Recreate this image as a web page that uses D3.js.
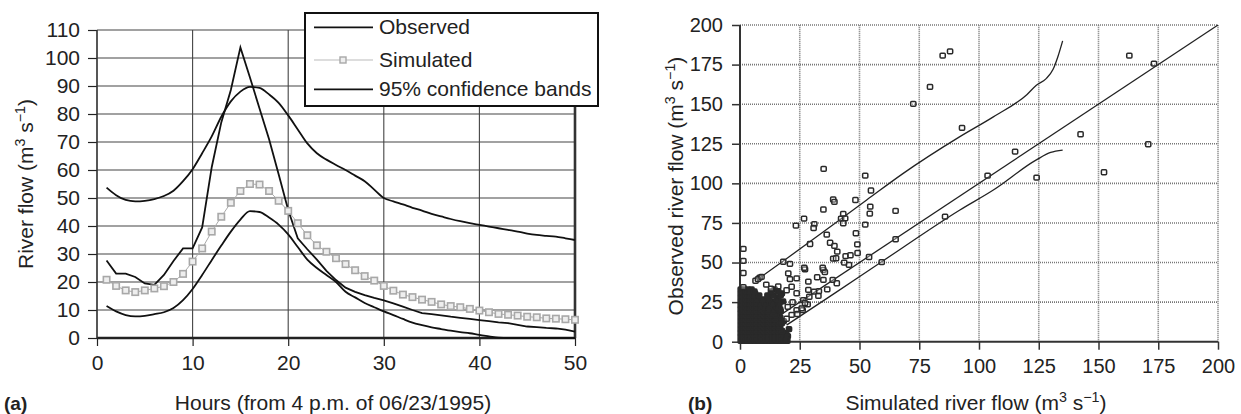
<!DOCTYPE html>
<html><head><meta charset="utf-8">
<script src="https://cdn.jsdelivr.net/npm/d3@7"></script>
<style>
html,body{margin:0;padding:0;background:#fff;}
svg{display:block;font-family:"Liberation Sans",Arial,Helvetica,sans-serif;}
</style></head>
<body>
<svg id="c" width="1241" height="414"></svg>
<script>
// ---------- Panel (a) data ----------
const hours = d3.range(1, 51);
const observed = [27.7,23,23,21.8,19.5,19,22.5,27.5,32,32,39.5,61,77,88.6,103.8,93,82,71,58.5,45.7,
  35.6,31.7,28,24,20.7,18,16.5,15.3,14.3,13.4,12.4,11.2,10,8.9,8.5,8.1,7.6,7.2,6.8,6.4,
  6.0,5.6,5.3,4.7,4.1,3.9,3.6,3.4,3.0,2.3];
const simulated = [20.8,18.6,17.0,16.4,17.0,17.7,18.5,20.0,22.9,27.3,32.0,38.0,43.3,48.3,52.5,55.0,54.8,52.5,49.0,45.4,
  41.0,36.7,33.1,30.8,28.5,26.4,24.2,22.1,20.5,18.6,16.9,15.5,14.6,13.7,12.9,12.0,11.4,11.0,10.4,9.8,
  9.2,8.6,8.3,8.0,7.6,7.4,7.0,6.9,6.7,6.5];
const upperBand = [53.7,51,49.3,48.8,49,49.6,50.7,52.6,56,60.3,66,72,79,84.5,88,89.7,89.3,87,84,79.5,
  74.5,69.5,66,63.7,61.8,60,58,56,53,50,48.8,47.7,46.5,45.5,44.3,43.4,42.5,41.7,41,40.4,
  39.8,39.2,38.6,38,37.3,36.8,36.5,36.2,35.6,35];
const lowerBand = [11.4,9.5,8.2,7.7,7.9,8.5,9.2,10.7,13.5,17.5,22.5,27.8,33,38,42.3,45.3,45,43,40.5,37,
  32.5,28,25,22.5,20,16.5,14.5,12.5,11,9.5,8.2,6.8,5.5,4.6,3.8,3.2,2.6,2.1,1.7,1.1,
  0.6,0.1,0,0,0,0,0,0,0,0];
const aYTicks = [0,10,20,30,40,50,60,70,80,90,100,110];
const aXTicks = [0,10,20,30,40,50];
const legendLabels = ["Observed","Simulated","95% confidence bands"];

// ---------- Panel (b) data ----------
const bTicks = [0,25,50,75,100,125,150,175,200];
const lineOneToOne = [[0,0],[200,200]];
const upperLimit = [[8,40],[20,53],[53,89.5],[68,106],[92,129.5],[106,142],[120,156],[124,162],[128,166],[131,172],[133,180],[135,190]];
const lowerLimit = [[19.5,10.5],[40,31],[59.3,50.5],[92,83.2],[106,95.8],[124,114.8],[130,119.5],[135,121]];
// dense cluster of low-flow points (overlapping markers)
const scatterLow = [
 [0.3,0.5],[1.8,0.5],[3.3,0.5],[4.8,0.5],[6.3,0.5],[7.8,0.5],[9.3,0.5],[10.8,0.5],[12.3,0.5],[13.8,0.5],[15.3,0.5],[16.8,0.5],[18.3,0.5],[19.8,0.5],
 [0.3,3],[1.8,3],[3.3,3],[4.8,3],[6.3,3],[7.8,3],[9.3,3],[10.8,3],[12.3,3],[13.8,3],[15.3,3],[16.8,3],[18.3,3],[20,3.5],
 [0.3,5.5],[1.8,5.5],[3.3,5.5],[4.8,5.5],[6.3,5.5],[7.8,5.5],[9.3,5.5],[10.8,5.5],[12.3,5.5],[13.8,5.5],[15.3,5.5],[16.8,5.5],[18.3,5.5],
 [0.3,8],[1.8,8],[3.3,8],[4.8,8],[6.3,8],[7.8,8],[9.3,8],[10.8,8],[12.3,8],[13.8,8],[15.3,8],[16.8,8],[20.5,8],
 [0.3,10.5],[1.8,10.5],[3.3,10.5],[4.8,10.5],[6.3,10.5],[7.8,10.5],[9.3,10.5],[10.8,10.5],[12.3,10.5],[13.8,10.5],[15.3,10.5],[16.8,10.5],
 [0.3,13],[1.8,13],[3.3,13],[4.8,13],[6.3,13],[7.8,13],[9.3,13],[10.8,13],[12.3,13],[13.8,13],[15.3,13],[18.3,13],
 [0.3,15.5],[1.8,15.5],[3.3,15.5],[4.8,15.5],[6.3,15.5],[7.8,15.5],[9.3,15.5],[10.8,15.5],[12.3,15.5],[13.8,15.5],[16.8,15.5],
 [0.3,18],[1.8,18],[3.3,18],[4.8,18],[6.3,18],[7.8,18],[9.3,18],[10.8,18],[12.3,18],[15.3,18],
 [0.3,20.5],[1.8,20.5],[3.3,20.5],[4.8,20.5],[6.3,20.5],[7.8,20.5],[9.3,20.5],[10.8,20.5],[13.8,20.5],[16.8,20.5],
 [0.3,23],[1.8,23],[3.3,23],[4.8,23],[6.3,23],[7.8,23],[9.3,23],[12.3,23],[15.3,23],
 [0.3,25.5],[1.8,25.5],[3.3,25.5],[4.8,25.5],[6.3,25.5],[7.8,25.5],[11,25.5],[14.5,25.5],[18,25.5],
 [0.3,28],[1.8,28],[3.3,28],[4.8,28],[6.3,28],[7.8,28],[12.3,28],[16,28],
 [0.3,30.5],[1.8,30.5],[3.3,30.5],[4.8,30.5],[6.3,30.5],[13,30.5],[17.5,30.5],
 [0.3,33],[1.8,33],[3.3,33],[4.8,33],[14.5,33],
 [1.05,1.75],[2.55,1.75],[4.05,1.75],[5.55,1.75],[7.05,1.75],[8.55,1.75],[10.05,1.75],[11.55,1.75],[13.05,1.75],[14.55,1.75],[16.05,1.75],[17.55,1.75],[19.05,1.75],
 [1.05,4.25],[2.55,4.25],[4.05,4.25],[5.55,4.25],[7.05,4.25],[8.55,4.25],[10.05,4.25],[11.55,4.25],[13.05,4.25],[14.55,4.25],[16.05,4.25],[17.55,4.25],[19.5,4.25],
 [1.05,6.75],[2.55,6.75],[4.05,6.75],[5.55,6.75],[7.05,6.75],[8.55,6.75],[10.05,6.75],[11.55,6.75],[13.05,6.75],[14.55,6.75],[16.05,6.75],[17.55,6.75],
 [1.05,9.25],[2.55,9.25],[4.05,9.25],[5.55,9.25],[7.05,9.25],[8.55,9.25],[10.05,9.25],[11.55,9.25],[13.05,9.25],[14.55,9.25],[16.05,9.25],
 [1.05,11.75],[2.55,11.75],[4.05,11.75],[5.55,11.75],[7.05,11.75],[8.55,11.75],[10.05,11.75],[11.55,11.75],[13.05,11.75],[14.55,11.75],[16.05,11.75],[17.5,11.75],
 [1.05,14.25],[2.55,14.25],[4.05,14.25],[5.55,14.25],[7.05,14.25],[8.55,14.25],[10.05,14.25],[11.55,14.25],[13.05,14.25],[14.55,14.25],
 [1.05,16.75],[2.55,16.75],[4.05,16.75],[5.55,16.75],[7.05,16.75],[8.55,16.75],[10.05,16.75],[11.55,16.75],[13.05,16.75],[15,16.75],
 [1.05,19.25],[2.55,19.25],[4.05,19.25],[5.55,19.25],[7.05,19.25],[8.55,19.25],[10.05,19.25],[11.55,19.25],[14,19.25],[17,19.25],
 [1.05,21.75],[2.55,21.75],[4.05,21.75],[5.55,21.75],[7.05,21.75],[8.55,21.75],[10.05,21.75],[12,21.75],[15.5,21.75],
 [1.05,24.25],[2.55,24.25],[4.05,24.25],[5.55,24.25],[7.05,24.25],[8.55,24.25],[10.5,24.25],[13.5,24.25],[16.5,24.25],
 [1.05,26.75],[2.55,26.75],[4.05,26.75],[5.55,26.75],[7.05,26.75],[9.5,26.75],[12,26.75],[15.5,26.75],
 [1.05,29.25],[2.55,29.25],[4.05,29.25],[5.55,29.25],[8,29.25],[11.5,29.25],[14,29.25],[17,29.25],
 [1.05,31.75],[2.55,31.75],[4.05,31.75],[6,31.75],[13,31.75],[16,31.75]
];
const scatterHigh = [
 [1.4,58.6],[1.4,51],[1.4,43.4],[1.4,34.5],[6.5,38.5],[8.2,40.5],[7.5,39.5],[9,41],
 [18.1,50.5],[20.9,49.1],[20.2,43.2],[20.9,39.5],[23.7,40],[27.2,45.7],[34.9,45.3],[35.5,44],
 [23.4,73.3],[26.8,77.7],[31.1,74.2],[30.8,71.8],[34.9,83.5],[35,109.2],[39,89.8],[39.5,88.3],[48.3,89.5],[52.4,104.9],[54.8,95.5],
 [43.2,80.7],[42.3,77.7],[44,77.9],[43.2,74.8],[52.4,73.9],[54.5,85.3],[54.3,80.9],[65.1,82.6],
 [36.3,67.6],[48.5,68.5],[29.3,61.7],[37.7,62.5],[39.5,60.5],[49.1,61.5],[40.7,56.9],[49.2,56],[44.2,54.1],[46.2,54.6],
 [39,52.4],[40.2,52.7],[43.6,49.9],[45.6,48.5],[54,53.5],[65.1,64.7],[59.3,50.3],[26.9,46.7],[34.6,46.7],
 [72.5,150.2],[79.5,160.9],[84.8,180.7],[87.9,183.4],[92.9,135],[162.9,180.7],[173.2,175.6],[142.5,131],[170.8,124.7],
 [115.1,120],[103.6,104.9],[124.1,103.6],[152.3,107],[85.8,79],
 [28.6,37.9],[32.3,40.7],[34.9,39],[38.8,39],[40.5,36.9],[36.5,33.1],[33,32],[31,31.6],[28.6,32.7],[32.8,28.9],
 [29,28.4],[26.5,26.3],[28.3,23.6],[26.2,20],[23.7,20],[24,17.5],[21.6,17],[19.5,14.5],[21.6,34.7],[23.7,30.6],
 [19.5,32.5],[25.8,21.1],[27.2,24.3],[16,35],[11,36],[13,33.5],[22,25],[20,22]
];

// ---------- drawing ----------
const svg = d3.select("#c");
const TICKA = 21, TICKB = 20, TITLE = 21;

function supLabel(sel, prefix, fs) {
  sel.append("tspan").text(prefix + " (m");
  sel.append("tspan").attr("baseline-shift","super").attr("font-size", fs*0.68).text("3");
  sel.append("tspan").text(" s");
  sel.append("tspan").attr("baseline-shift","super").attr("font-size", fs*0.68).text("\u22121");
  sel.append("tspan").text(")");
}

// ===== Panel (a) =====
const xA = d3.scaleLinear().domain([0,50]).range([97,575]);
const yA = d3.scaleLinear().domain([0,110]).range([338,30]);
const gA = svg.append("g");

gA.append("g").selectAll("line").data(aYTicks.filter(d=>d>0)).join("line")
  .attr("x1", xA(0)).attr("x2", xA(50)).attr("y1", d=>yA(d)).attr("y2", d=>yA(d))
  .attr("stroke","#444").attr("stroke-width",1.1);
gA.append("g").selectAll("line").data(aXTicks).join("line")
  .attr("x1", d=>xA(d)).attr("x2", d=>xA(d)).attr("y1", yA(0)).attr("y2", yA(110))
  .attr("stroke","#444").attr("stroke-width",1.1);

const axLA = gA.append("g").attr("transform",`translate(${xA(0)},0)`)
  .call(d3.axisLeft(yA).tickValues(aYTicks).tickSize(9).tickPadding(8));
const axBA = gA.append("g").attr("transform",`translate(0,${yA(0)})`)
  .call(d3.axisBottom(xA).tickValues(aXTicks).tickSize(8).tickPadding(9));
[axLA, axBA].forEach(a => {
  a.select(".domain").remove();
  a.selectAll("line").attr("stroke","#222").attr("stroke-width",1.2);
  a.selectAll("text").attr("font-size",TICKA).attr("fill","#222").attr("font-family","Liberation Sans, Arial, sans-serif");
});
gA.append("line").attr("x1",xA(0)).attr("x2",xA(50)).attr("y1",yA(0)).attr("y2",yA(0))
  .attr("stroke","#222").attr("stroke-width",2.6);
gA.append("line").attr("x1",xA(50)).attr("x2",xA(50)).attr("y1",yA(0)).attr("y2",yA(110))
  .attr("stroke","#333").attr("stroke-width",2.6);
gA.append("line").attr("x1",xA(0)).attr("x2",xA(0)).attr("y1",yA(0)).attr("y2",yA(110))
  .attr("stroke","#333").attr("stroke-width",1.3);

const lineA = (arr, curve) => d3.line().x((d,i)=>xA(hours[i])).y(d=>yA(d)).curve(curve)(arr);
gA.append("path").attr("d", lineA(upperBand, d3.curveMonotoneX)).attr("fill","none").attr("stroke","#111").attr("stroke-width",1.8);
gA.append("path").attr("d", lineA(lowerBand, d3.curveMonotoneX)).attr("fill","none").attr("stroke","#111").attr("stroke-width",1.8);
gA.append("path").attr("d", lineA(simulated, d3.curveLinear)).attr("fill","none").attr("stroke","#aaa").attr("stroke-width",1);
gA.append("path").attr("d", lineA(observed, d3.curveLinear)).attr("fill","none").attr("stroke","#111").attr("stroke-width",1.8);
gA.append("g").selectAll("rect").data(simulated).join("rect")
  .attr("x",(d,i)=>xA(hours[i])-3.2).attr("y",d=>yA(d)-3.2).attr("width",6.4).attr("height",6.4)
  .attr("fill","#eee").attr("stroke","#a8a8a8").attr("stroke-width",1.6);

// legend
const lg = gA.append("g");
lg.append("rect").attr("x",305).attr("y",13).attr("width",293).attr("height",93)
  .attr("fill","#fff").attr("stroke","#111").attr("stroke-width",2);
const lgY = [27.3, 60, 89.3];
legendLabels.forEach((lab,i)=>{
  lg.append("line").attr("x1",314).attr("x2",373).attr("y1",lgY[i]).attr("y2",lgY[i])
    .attr("stroke", i===1 ? "#bbb" : "#111").attr("stroke-width", i===1 ? 1 : 1.8);
  if (i===1) lg.append("rect").attr("x",340).attr("y",lgY[i]-3).attr("width",6).attr("height",6)
    .attr("fill","#eee").attr("stroke","#a8a8a8").attr("stroke-width",1.4);
  lg.append("text").attr("x",379).attr("y",lgY[i]+7).attr("font-size",21).attr("fill","#222").text(lab);
});

const ylabA = svg.append("text").attr("transform","translate(33,184) rotate(-90)")
  .attr("text-anchor","middle").attr("font-size",TITLE).attr("fill","#222");
supLabel(ylabA, "River flow", TITLE);
svg.append("text").attr("x",333).attr("y",410).attr("text-anchor","middle").attr("font-size",TITLE).attr("fill","#222")
  .text("Hours (from 4 p.m. of 06/23/1995)");
svg.append("text").attr("x",4).attr("y",410).attr("font-size",19).attr("font-weight","bold").attr("fill","#222").text("(a)");

// ===== Panel (b) =====
const xB = d3.scaleLinear().domain([0,200]).range([740,1218]);
const yB = d3.scaleLinear().domain([0,200]).range([341.7,25]);
const gB = svg.append("g");

gB.append("g").selectAll("line").data(bTicks.filter(d=>d>0)).join("line")
  .attr("x1",xB(0)).attr("x2",xB(200)).attr("y1",d=>yB(d)).attr("y2",d=>yB(d))
  .attr("stroke","#777").attr("stroke-width",1.6).attr("stroke-dasharray","1,1");
gB.append("g").selectAll("line").data(bTicks.filter(d=>d>0)).join("line")
  .attr("x1",d=>xB(d)).attr("x2",d=>xB(d)).attr("y1",yB(0)).attr("y2",yB(200))
  .attr("stroke","#777").attr("stroke-width",1.6).attr("stroke-dasharray","1,1");

const axLB = gB.append("g").attr("transform",`translate(${xB(0)},0)`)
  .call(d3.axisLeft(yB).tickValues(bTicks).tickSize(8).tickPadding(9));
const axBB = gB.append("g").attr("transform",`translate(0,${yB(0)})`)
  .call(d3.axisBottom(xB).tickValues(bTicks).tickSize(8).tickPadding(9));
[axLB, axBB].forEach(a => {
  a.select(".domain").remove();
  a.selectAll("line").attr("stroke","#333").attr("stroke-width",1.5);
  a.selectAll("text").attr("font-size",TICKB).attr("fill","#222").attr("font-family","Liberation Sans, Arial, sans-serif");
});
gB.append("line").attr("x1",xB(0)).attr("x2",xB(200)).attr("y1",yB(0)).attr("y2",yB(0))
  .attr("stroke","#333").attr("stroke-width",2);
gB.append("line").attr("x1",xB(0)).attr("x2",xB(0)).attr("y1",yB(0)).attr("y2",yB(200))
  .attr("stroke","#333").attr("stroke-width",2);

const lineB = d3.line().x(d=>xB(d[0])).y(d=>yB(d[1]));
gB.append("path").attr("d", lineB(lineOneToOne)).attr("fill","none").attr("stroke","#222").attr("stroke-width",1.3);
gB.append("path").attr("d", d3.line().x(d=>xB(d[0])).y(d=>yB(d[1])).curve(d3.curveMonotoneX)(upperLimit))
  .attr("fill","none").attr("stroke","#222").attr("stroke-width",1.3);
gB.append("path").attr("d", d3.line().x(d=>xB(d[0])).y(d=>yB(d[1])).curve(d3.curveMonotoneX)(lowerLimit))
  .attr("fill","none").attr("stroke","#222").attr("stroke-width",1.3);

gB.append("g").selectAll("rect").data(scatterLow).join("rect")
  .attr("x",d=>xB(d[0])-2.6).attr("y",d=>yB(d[1])-2.4).attr("width",5.2).attr("height",4.8)
  .attr("rx",1).attr("fill","#2a2a2a")
  .attr("stroke","#2a2a2a").attr("stroke-width",1.5);
gB.append("g").selectAll("rect").data(scatterHigh).join("rect")
  .attr("x",d=>xB(d[0])-2.6).attr("y",d=>yB(d[1])-2.4).attr("width",5.2).attr("height",4.8)
  .attr("rx",1).attr("fill","#fff").attr("fill-opacity",0.3)
  .attr("stroke","#2a2a2a").attr("stroke-width",1.5);

const ylabB = svg.append("text").attr("transform","translate(683,186) rotate(-90)")
  .attr("text-anchor","middle").attr("font-size",TITLE).attr("fill","#222");
supLabel(ylabB, "Observed river flow", TITLE);
const xlabB = svg.append("text").attr("x",976).attr("y",410).attr("text-anchor","middle").attr("font-size",TITLE).attr("fill","#222");
supLabel(xlabB, "Simulated river flow", TITLE);
svg.append("text").attr("x",688).attr("y",410).attr("font-size",19).attr("font-weight","bold").attr("fill","#222").text("(b)");
</script>
</body></html>
